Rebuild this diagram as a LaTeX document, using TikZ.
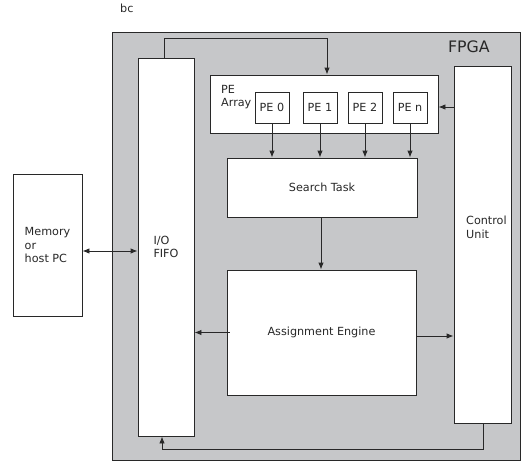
\documentclass[tikz,border=0pt]{standalone}
\usepackage{fontspec}
\setmainfont{DejaVu Sans}
\usetikzlibrary{arrows.meta}
\definecolor{fpgagray}{RGB}{198,199,201}
\definecolor{ink}{RGB}{40,40,40}
\begin{document}
\begin{tikzpicture}[x=1pt,y=-1pt,
  every node/.style={font=\fontsize{11.2}{13.5}\selectfont, text=ink},
  box/.style={draw=ink, line width=0.9pt, fill=white, inner sep=0pt, align=left},
  wire/.style={draw=ink, line width=0.9pt},
  arr/.style={wire, -{Latex[length=7pt,width=5.5pt]}},
  biarr/.style={wire, {Latex[length=7pt,width=5.5pt]}-{Latex[length=7pt,width=5.5pt]}}]
\useasboundingbox (0,0) rectangle (525,464);

% FPGA background
\node[draw=ink, line width=0.9pt, fill=fpgagray, minimum width=408pt, minimum height=428pt, inner sep=0pt] (fpga) at (316,246) {};
\node[anchor=base east, inner sep=0pt, font=\fontsize{15.8}{18}\selectfont] (fpgatext) at (490,52) {FPGA};
\node[anchor=base west, inner sep=0pt] (bc) at (120,12) {bc};

% Blocks
\node[box, minimum width=69pt, minimum height=142pt] (mem) at (47.5,245) {Memory\\or\\host PC};
\node[box, minimum width=56pt, minimum height=378pt] (fifo) at (166,247) {I/O\\FIFO};
\node[box, minimum width=228pt, minimum height=58pt] (pea) at (324,104) {};
\node[anchor=north west, inner sep=0pt, align=left] (peatext) at (221,85) {PE\\Array};
\node[box, minimum width=34pt, minimum height=31pt] (pe0) at (272,107.5) {PE 0};
\node[box, minimum width=34pt, minimum height=31pt] (pe1) at (320,107.5) {PE 1};
\node[box, minimum width=34pt, minimum height=31pt] (pe2) at (365,107.5) {PE 2};
\node[box, minimum width=34pt, minimum height=31pt] (pen) at (410,107.5) {PE n};
\node[box, minimum width=190pt, minimum height=59pt] (st) at (322,187.5) {Search Task};
\node[box, minimum width=189pt, minimum height=125pt] (ae) at (321.5,332.5) {Assignment Engine};
\node[box, minimum width=57pt, minimum height=357pt] (cu) at (482.5,244.5) {};
\node[anchor=north west, inner sep=0pt, align=left] (cutext) at (466,216) {Control\\Unit};

% Connectors
\draw[biarr] ([yshift=-6pt]mem.east) -- ([yshift=-6pt]mem.east -| fifo.west);
\coordinate (topturn) at (164,38);
\draw[arr] (topturn |- fifo.north) -- (topturn) -- (topturn -| 327,0) -- (327,0 |- pea.north);
\draw[arr] (cu.west |- 0,107) -- (pea.east |- 0,107);
\foreach \p in {pe0,pe1,pe2,pen}
  \draw[arr] (\p.south) -- (\p.south |- st.north);
\draw[arr] (321,0 |- st.south) -- (321,0 |- ae.north);
\draw[arr] ([xshift=3pt]ae.west) -- (ae.west -| fifo.east);
\draw[arr] ([yshift=-3.5pt]ae.east) -- ([yshift=-3.5pt]ae.east -| cu.west);
\coordinate (botturn) at (483,449);
\draw[arr] (botturn |- cu.south) -- (botturn) -- (162,449) -- (162,0 |- fifo.south);
\end{tikzpicture}
\end{document}
